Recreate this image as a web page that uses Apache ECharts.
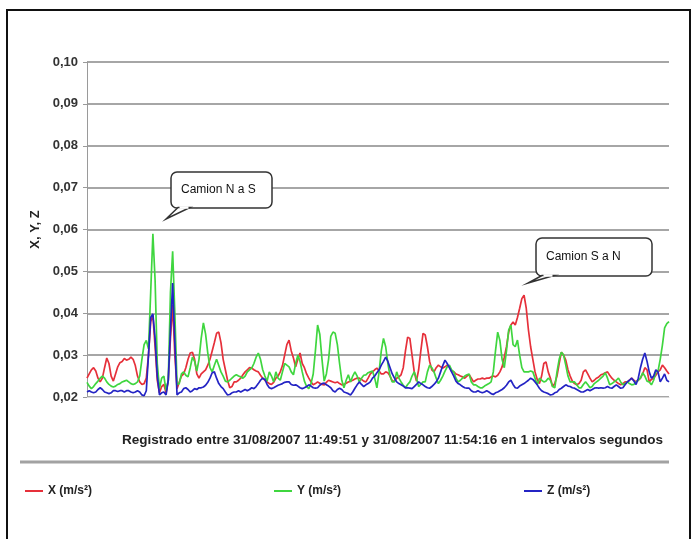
<!DOCTYPE html>
<html>
<head>
<meta charset="utf-8">
<script src="https://cdn.jsdelivr.net/npm/echarts@6/dist/echarts.min.js"></script>
<style>
  html, body { margin: 0; padding: 0; background: #ffffff; }
  #chart { width: 694px; height: 539px; }
</style>
</head>
<body>
<div id="chart"></div>
<script>
// Acelerómetro: una muestra por segundo, 31/08/2007 11:49:51 - 11:54:16
const seriesNames = ['X (m/s²)', 'Y (m/s²)', 'Z (m/s²)'];
const xTitle = 'Registrado entre 31/08/2007 11:49:51 y 31/08/2007 11:54:16 en 1 intervalos segundos';
const yTitle = 'X, Y, Z';
const yTicks = { min: 0.02, max: 0.10, step: 0.01 };
const notes = ['Camion N a S', 'Camion S a N'];

const valuesX = [
  0.0245,0.0255,0.0265,0.0270,0.0262,0.0245,0.0236,0.0245,0.0270,0.0293,
  0.0280,0.0250,0.0238,0.0255,0.0272,0.0282,0.0285,0.0292,0.0288,0.0290,
  0.0295,0.0290,0.0275,0.0250,0.0236,0.0230,0.0232,0.0245,0.0300,0.0380,
  0.0395,0.0320,0.0240,0.0210,0.0225,0.0230,0.0210,0.0240,0.0340,0.0420,
  0.0300,0.0220,0.0235,0.0250,0.0255,0.0270,0.0290,0.0305,0.0307,0.0290,
  0.0255,0.0245,0.0255,0.0260,0.0265,0.0276,0.0290,0.0310,0.0330,0.0352,
  0.0355,0.0330,0.0290,0.0265,0.0240,0.0222,0.0225,0.0236,0.0236,0.0240,
  0.0245,0.0253,0.0260,0.0265,0.0270,0.0269,0.0265,0.0262,0.0260,0.0252,
  0.0245,0.0240,0.0236,0.0232,0.0230,0.0235,0.0245,0.0250,0.0260,0.0275,
  0.0300,0.0325,0.0336,0.0310,0.0293,0.0272,0.0290,0.0305,0.0280,0.0270,
  0.0255,0.0245,0.0236,0.0229,0.0232,0.0236,0.0233,0.0230,0.0229,0.0235,
  0.0240,0.0238,0.0236,0.0234,0.0236,0.0232,0.0229,0.0230,0.0233,0.0236,
  0.0238,0.0240,0.0243,0.0245,0.0245,0.0242,0.0238,0.0236,0.0245,0.0255,
  0.0260,0.0265,0.0269,0.0262,0.0255,0.0255,0.0260,0.0258,0.0250,0.0238,
  0.0238,0.0245,0.0248,0.0253,0.0270,0.0310,0.0343,0.0340,0.0300,0.0260,
  0.0238,0.0265,0.0310,0.0352,0.0348,0.0320,0.0285,0.0265,0.0260,0.0270,
  0.0276,0.0272,0.0269,0.0272,0.0276,0.0272,0.0262,0.0260,0.0255,0.0253,
  0.0250,0.0248,0.0245,0.0250,0.0253,0.0245,0.0236,0.0240,0.0243,0.0243,
  0.0245,0.0243,0.0245,0.0245,0.0248,0.0250,0.0248,0.0252,0.0260,0.0272,
  0.0295,0.0320,0.0355,0.0372,0.0379,0.0372,0.0390,0.0412,0.0435,0.0443,
  0.0412,0.0360,0.0320,0.0290,0.0260,0.0242,0.0232,0.0250,0.0280,0.0284,
  0.0260,0.0245,0.0225,0.0232,0.0250,0.0280,0.0307,0.0300,0.0288,0.0265,
  0.0250,0.0238,0.0232,0.0229,0.0232,0.0240,0.0260,0.0265,0.0255,0.0245,
  0.0236,0.0240,0.0245,0.0248,0.0253,0.0255,0.0258,0.0260,0.0252,0.0245,
  0.0240,0.0236,0.0232,0.0229,0.0232,0.0236,0.0236,0.0240,0.0245,0.0240,
  0.0236,0.0240,0.0245,0.0255,0.0270,0.0265,0.0236,0.0242,0.0245,0.0252,
  0.0260,0.0265,0.0276,0.0270,0.0262,0.0255
];

const valuesY = [
  0.0235,0.0226,0.0220,0.0225,0.0232,0.0238,0.0245,0.0250,0.0245,0.0236,
  0.0230,0.0226,0.0224,0.0226,0.0230,0.0232,0.0236,0.0238,0.0240,0.0236,
  0.0232,0.0230,0.0232,0.0236,0.0250,0.0290,0.0325,0.0335,0.0315,0.0450,
  0.0590,0.0480,0.0280,0.0220,0.0245,0.0250,0.0215,0.0240,0.0450,0.0548,
  0.0400,0.0230,0.0232,0.0255,0.0260,0.0252,0.0248,0.0270,0.0295,0.0285,
  0.0262,0.0290,0.0340,0.0377,0.0350,0.0305,0.0270,0.0260,0.0276,0.0290,
  0.0275,0.0260,0.0250,0.0238,0.0236,0.0240,0.0245,0.0250,0.0253,0.0250,
  0.0248,0.0245,0.0250,0.0260,0.0265,0.0269,0.0280,0.0295,0.0305,0.0290,
  0.0265,0.0250,0.0238,0.0260,0.0250,0.0236,0.0260,0.0245,0.0240,0.0260,
  0.0280,0.0276,0.0272,0.0260,0.0253,0.0280,0.0300,0.0285,0.0260,0.0238,
  0.0225,0.0220,0.0232,0.0255,0.0310,0.0372,0.0350,0.0290,0.0238,0.0255,
  0.0290,0.0345,0.0355,0.0352,0.0325,0.0280,0.0240,0.0222,0.0240,0.0253,
  0.0236,0.0250,0.0260,0.0250,0.0236,0.0245,0.0252,0.0253,0.0258,0.0260,
  0.0262,0.0245,0.0222,0.0260,0.0310,0.0340,0.0320,0.0280,0.0250,0.0236,
  0.0236,0.0260,0.0245,0.0236,0.0228,0.0222,0.0230,0.0236,0.0250,0.0260,
  0.0245,0.0225,0.0230,0.0236,0.0236,0.0260,0.0276,0.0270,0.0260,0.0245,
  0.0232,0.0240,0.0250,0.0262,0.0272,0.0276,0.0265,0.0260,0.0245,0.0236,
  0.0240,0.0245,0.0250,0.0253,0.0255,0.0236,0.0229,0.0229,0.0225,0.0222,
  0.0222,0.0226,0.0229,0.0232,0.0236,0.0260,0.0310,0.0355,0.0335,0.0290,
  0.0270,0.0310,0.0360,0.0372,0.0325,0.0320,0.0336,0.0300,0.0270,0.0260,
  0.0260,0.0260,0.0262,0.0260,0.0245,0.0229,0.0245,0.0240,0.0236,0.0238,
  0.0245,0.0240,0.0225,0.0222,0.0260,0.0290,0.0307,0.0300,0.0276,0.0250,
  0.0236,0.0236,0.0236,0.0229,0.0222,0.0222,0.0230,0.0236,0.0230,0.0222,
  0.0225,0.0232,0.0236,0.0240,0.0245,0.0250,0.0258,0.0245,0.0229,0.0232,
  0.0236,0.0240,0.0245,0.0236,0.0229,0.0232,0.0236,0.0232,0.0229,0.0230,
  0.0236,0.0240,0.0245,0.0258,0.0250,0.0238,0.0236,0.0229,0.0240,0.0260,
  0.0262,0.0290,0.0324,0.0365,0.0375,0.0380
];

const valuesZ = [
  0.0212,0.0215,0.0212,0.0210,0.0212,0.0218,0.0222,0.0218,0.0212,0.0210,
  0.0208,0.0210,0.0215,0.0215,0.0213,0.0215,0.0215,0.0212,0.0215,0.0215,
  0.0212,0.0210,0.0212,0.0215,0.0212,0.0205,0.0203,0.0215,0.0300,0.0390,
  0.0398,0.0340,0.0250,0.0205,0.0210,0.0212,0.0205,0.0240,0.0360,0.0472,
  0.0330,0.0205,0.0210,0.0212,0.0220,0.0222,0.0218,0.0212,0.0215,0.0220,
  0.0218,0.0222,0.0222,0.0224,0.0228,0.0235,0.0245,0.0258,0.0260,0.0245,
  0.0232,0.0225,0.0220,0.0212,0.0205,0.0206,0.0210,0.0212,0.0212,0.0215,
  0.0212,0.0215,0.0218,0.0215,0.0218,0.0222,0.0220,0.0225,0.0232,0.0240,
  0.0245,0.0242,0.0230,0.0222,0.0220,0.0222,0.0225,0.0228,0.0230,0.0232,
  0.0235,0.0236,0.0236,0.0230,0.0228,0.0229,0.0226,0.0222,0.0220,0.0222,
  0.0225,0.0229,0.0226,0.0222,0.0221,0.0222,0.0228,0.0232,0.0233,0.0229,
  0.0226,0.0222,0.0215,0.0212,0.0218,0.0221,0.0218,0.0212,0.0210,0.0208,
  0.0205,0.0212,0.0221,0.0229,0.0236,0.0230,0.0225,0.0229,0.0232,0.0236,
  0.0245,0.0250,0.0258,0.0265,0.0276,0.0285,0.0295,0.0285,0.0270,0.0255,
  0.0245,0.0236,0.0232,0.0229,0.0226,0.0222,0.0222,0.0221,0.0220,0.0225,
  0.0230,0.0236,0.0232,0.0229,0.0225,0.0222,0.0221,0.0225,0.0230,0.0236,
  0.0245,0.0260,0.0275,0.0288,0.0280,0.0270,0.0260,0.0250,0.0238,0.0232,
  0.0229,0.0225,0.0222,0.0221,0.0221,0.0215,0.0212,0.0212,0.0215,0.0212,
  0.0210,0.0212,0.0215,0.0212,0.0208,0.0206,0.0210,0.0212,0.0215,0.0218,
  0.0222,0.0228,0.0236,0.0240,0.0230,0.0222,0.0221,0.0226,0.0229,0.0232,
  0.0236,0.0240,0.0245,0.0242,0.0236,0.0229,0.0221,0.0215,0.0212,0.0210,
  0.0208,0.0205,0.0206,0.0210,0.0212,0.0218,0.0221,0.0225,0.0229,0.0226,
  0.0225,0.0222,0.0221,0.0218,0.0215,0.0212,0.0212,0.0215,0.0218,0.0215,
  0.0218,0.0221,0.0222,0.0221,0.0222,0.0221,0.0222,0.0225,0.0222,0.0221,
  0.0225,0.0229,0.0225,0.0221,0.0222,0.0229,0.0236,0.0240,0.0245,0.0238,
  0.0230,0.0245,0.0270,0.0290,0.0305,0.0285,0.0260,0.0245,0.0250,0.0265,
  0.0260,0.0236,0.0245,0.0255,0.0240,0.0236
];

// one category per second of the recording
const seconds = valuesX.map((_, i) => i);

const colors = ['#e6303a', '#3fd63f', '#2424c4'];
const font = 'Liberation Sans, Arial, sans-serif';

const chart = echarts.init(document.getElementById('chart'), null, { renderer: 'canvas' });

const legendLefts = [25, 274, 524];

// speech-bubble callout: rounded box plus a small tail at the lower-left corner
function callout(box, tail, label) {
  return [
    {
      type: 'rect', z: 20, silent: true,
      shape: { x: box[0], y: box[1], width: box[2], height: box[3], r: 6 },
      style: { fill: '#ffffff', stroke: '#333', lineWidth: 1.5 }
    },
    {
      type: 'polygon', z: 21, silent: true,
      shape: { points: [[tail[0], box[1] + box[3] - 0.5], [tail[2], tail[3]], [tail[1], box[1] + box[3] - 0.5]] },
      style: { fill: '#ffffff', stroke: '#333', lineWidth: 1.5 }
    },
    {
      type: 'line', z: 22, silent: true,
      shape: { x1: tail[0] + 1.5, y1: box[1] + box[3] - 0.5, x2: tail[1] - 1.5, y2: box[1] + box[3] - 0.5 },
      style: { stroke: '#ffffff', lineWidth: 2.5 }
    },
    {
      type: 'text', z: 23, silent: true,
      style: { text: label, x: box[0] + 10, y: box[1] + box[3] / 2, verticalAlign: 'middle', font: '12px ' + font, fill: '#111' }
    }
  ];
}

chart.setOption({
  backgroundColor: '#ffffff',
  animation: false,
  color: colors,
  grid: { left: 87, right: 25, top: 62, bottom: 142, containLabel: false },
  xAxis: {
    type: 'category',
    data: seconds,
    boundaryGap: false,
    axisLine: { show: true, lineStyle: { color: '#d8d8d8', width: 1 } },
    axisTick: { show: false },
    axisLabel: { show: false },
    splitLine: { show: false }
  },
  yAxis: {
    type: 'value',
    min: yTicks.min,
    max: yTicks.max,
    interval: yTicks.step,
    name: yTitle,
    nameLocation: 'middle',
    nameGap: 45,
    nameRotate: 90,
    nameTextStyle: { fontFamily: font, fontSize: 13, fontWeight: 'bold', color: '#222' },
    axisLine: { show: true, lineStyle: { color: '#9a9a9a', width: 1 } },
    axisTick: { show: true, length: 4, lineStyle: { color: '#9a9a9a' } },
    axisLabel: {
      margin: 9,
      fontFamily: font,
      fontSize: 13,
      fontWeight: 'bold',
      color: '#333',
      formatter: v => v.toFixed(2).replace('.', ',')
    },
    splitLine: { show: true, lineStyle: { color: '#a6a6a6', width: 2 } }
  },
  legend: seriesNames.map((n, k) => ({
    data: [n],
    left: legendLefts[k],
    top: 485,
    icon: 'rect',
    itemWidth: 18,
    itemHeight: 2,
    itemGap: 0,
    padding: 0,
    textStyle: { fontFamily: font, fontSize: 12, fontWeight: 'bold', color: '#222' }
  })),
  series: [valuesX, valuesY, valuesZ].map((vals, k) => ({
    name: seriesNames[k],
    type: 'line',
    data: vals,
    showSymbol: false,
    symbol: 'none',
    smooth: false,
    lineStyle: { width: 1.7, color: colors[k] },
    z: 2 + k
  })),
  graphic: [
    // outer frame
    {
      type: 'rect', z: 0, silent: true,
      shape: { x: 7, y: 10, width: 683, height: 540 },
      style: { fill: 'none', stroke: '#111', lineWidth: 2 }
    },
    // x axis caption
    {
      type: 'text', z: 10, silent: true,
      style: { text: xTitle, x: 122, y: 433, font: 'bold 13.5px ' + font, fill: '#222' }
    },
    // separator above the legend
    {
      type: 'line', z: 1, silent: true,
      shape: { x1: 20, y1: 462, x2: 669, y2: 462 },
      style: { stroke: '#a2a2a2', lineWidth: 3 }
    }
  ]
    .concat(callout([171, 172, 101, 36], [178, 190, 166, 219], notes[0]))
    .concat(callout([536, 238, 116, 38], [542, 554, 528, 283], notes[1]))
});
</script>
</body>
</html>
